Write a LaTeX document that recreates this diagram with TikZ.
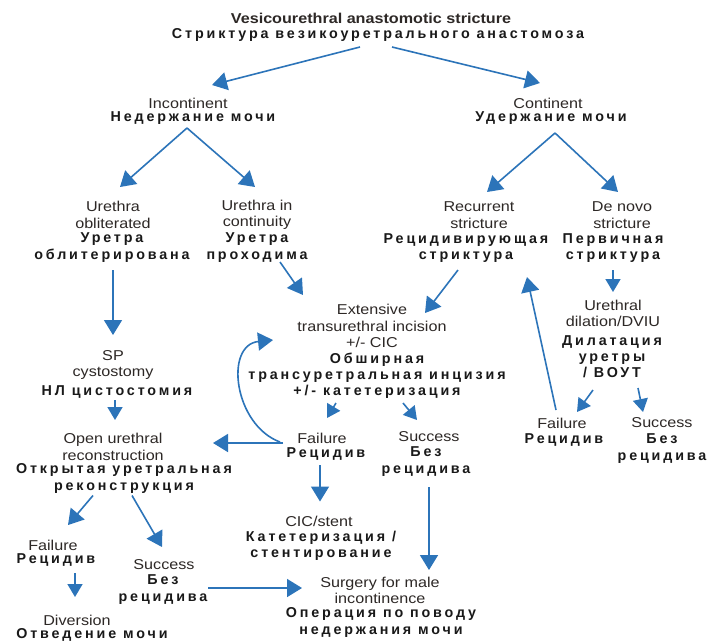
\documentclass[tikz,border=0pt]{standalone}
\usepackage{fontspec}
\usepackage{xcolor}
\usepackage{tikz}
\usetikzlibrary{arrows.meta}

\setmainfont{Liberation Sans}
\newfontfamily\enfont{Liberation Sans}[FakeStretch=1.13]
\newfontfamily\rufont{Liberation Sans}[LetterSpace=20]

\definecolor{arrblue}{RGB}{44,116,185}
\definecolor{entext}{RGB}{45,40,38}

\tikzset{
  en/.style={inner sep=0pt, align=center, text=entext,
    font=\enfont\fontsize{14.3}{16.5}\selectfont},
  ru/.style={inner sep=0pt, align=center, text=black!90,
    font=\rufont\bfseries\fontsize{14.3}{16.2}\selectfont},
  arr/.style={draw=arrblue, line width=1.6pt,
    -{Triangle[length=15pt,width=18pt]}},
  arr small/.style={arr, -{Triangle[length=13pt,width=15pt]}}
}

\begin{document}
\begin{tikzpicture}[x=1pt,y=-1pt]

\useasboundingbox[fill=white] (0,0) rectangle (722,641);

% Top of the tree
\node[en, font=\enfont\bfseries\fontsize{14.3}{16.5}\selectfont] (title) at (371,18) {Vesicourethral anastomotic stricture};
\node[ru] (title ru) at (378,35) {Стриктура везикоуретрального анастомоза};

\node[en] (incont) at (188,103) {Incontinent};
\node[ru] (incont ru) at (193,118) {Недержание мочи};
\node[en] (cont) at (548,103) {Continent};
\node[ru] (cont ru) at (551,118) {Удержание мочи};

% Second row
\node[en] (obl) at (113,215) {Urethra\\obliterated};
\node[ru] (obl ru) at (112,247.5) {Уретра\\облитерирована};
\node[en] (cty) at (257,215) {Urethra in\\continuity};
\node[ru] (cty ru) at (257,247.5) {Уретра\\проходима};
\node[en] (recur) at (479,215) {Recurrent\\stricture};
\node[ru] (recur ru) at (466,248) {Рецидивирующая\\стриктура};
\node[en] (denovo) at (622,215) {De novo\\stricture};
\node[ru] (denovo ru) at (613,248) {Первичная\\стриктура};

% Middle
\node[en] (sp) at (113,365) {SP\\cystostomy};
\node[ru] (sp ru) at (117,392) {НЛ цистостомия};
\node[en] (eti) at (372,326) {Extensive\\transurethral incision\\+/- CIC};
\node[ru] (eti ru) at (377,376) {Обширная\\трансуретральная инцизия\\+/- катетеризация};
\node[en] (dil) at (613,313.5) {Urethral\\dilation/DVIU};
\node[ru] (dil ru) at (612,356.5) {Дилатация\\уретры\\/ ВОУТ};

\node[en] (openrec) at (113,447) {Open urethral\\reconstruction};
\node[ru] (openrec ru) at (124,478.5) {Открытая уретральная\\реконструкция};
\node[en] (fail1) at (322,438) {Failure};
\node[ru] (fail1 ru) at (326,454) {Рецидив};
\node[en] (succ1) at (429,437) {Success};
\node[ru] (succ1 ru) at (426,461.5) {Без\\рецидива};
\node[en] (fail2) at (562,423) {Failure};
\node[ru] (fail2 ru) at (564,440) {Рецидив};
\node[en] (succ2) at (662,423) {Success};
\node[ru] (succ2 ru) at (662,448.5) {Без\\рецидива};

% Bottom
\node[en] (failL) at (53,545) {Failure};
\node[ru] (failL ru) at (56,560) {Рецидив};
\node[en] (succL) at (164,565) {Success};
\node[ru] (succL ru) at (163,589.5) {Без\\рецидива};
\node[en] (div) at (77,620) {Diversion};
\node[ru] (div ru) at (92,635) {Отведение мочи};
\node[en] (cic) at (319,521.5) {CIC/stent};
\node[ru] (cic ru) at (321,545.5) {Катетеризация /\\стентирование};
\node[en] (surg) at (380,590.5) {Surgery for male\\incontinence};
\node[ru] (surg ru) at (381,622.5) {Операция по поводу\\недержания мочи};

% Arrows
\draw[arr] ([shift={(-18,12)}]title ru.center) -- ([shift={(24,-18)}]incont.center);
\draw[arr] ([shift={(14,12)}]title ru.center) -- ([shift={(-8,-20)}]cont.center);
\draw[arr] ([shift={(-6,10)}]incont ru.center) -- ([shift={(7,-28)}]obl.center);
\draw[arr] ([shift={(-6,10)}]incont ru.center) -- ([shift={(-2,-28)}]cty.center);
\draw[arr] ([shift={(4,15)}]cont ru.center) -- ([shift={(8,-23)}]recur.center);
\draw[arr] ([shift={(4,15)}]cont ru.center) -- ([shift={(-4,-23)}]denovo.center);
\draw[arr] ([shift={(1,22.5)}]obl ru.center) -- ([shift={(0,-30)}]sp.center);
\draw[arr] ([shift={(23,14.5)}]cty ru.center) -- ([shift={(-69,-31)}]eti.center);
\draw[arr] ([shift={(-8,22)}]recur ru.center) -- ([shift={(53,-13)}]eti.center);
\draw[arr small] ([shift={(0,22)}]denovo ru.center) -- ([shift={(0,-21.5)}]dil.center);
\draw[arr small] ([shift={(-2,8)}]sp ru.center) -- ([shift={(2,-27)}]openrec.center);
\draw[arr small] ([shift={(-41,27)}]eti ru.center) -- ([shift={(5,-20)}]fail1.center);
\draw[arr small] ([shift={(26,27)}]eti ru.center) -- ([shift={(-12,-17)}]succ1.center);
\draw[arr] ([shift={(-39,5)}]fail1.center) -- ([shift={(100,-4)}]openrec.center);
\draw[arr] ([shift={(-42,4)}]fail1.center) .. controls (234,425) and (224,345) .. ([shift={(-99,14)}]eti.center);
\draw[arr] ([shift={(-6,11)}]fail1 ru.center) -- ([shift={(1,-20)}]cic.center);
\draw[arr] ([shift={(3,25.5)}]succ1 ru.center) -- ([shift={(49,-20.5)}]surg.center);
\draw[arr] ([shift={(-31,17)}]openrec ru.center) -- ([shift={(15,-20)}]failL.center);
\draw[arr] ([shift={(8,17)}]openrec ru.center) -- ([shift={(-2,-18)}]succL.center);
\draw[arr small] ([shift={(19,13)}]failL ru.center) -- ([shift={(-2,-23)}]div.center);
\draw[arr] ([shift={(45,-1.5)}]succL ru.center) -- ([shift={(-78,-2.5)}]surg.center);
\draw[arr small] ([shift={(-19,33.5)}]dil ru.center) -- ([shift={(15,-11)}]fail2.center);
\draw[arr small] ([shift={(26,31.5)}]dil ru.center) -- ([shift={(-19,-11)}]succ2.center);
\draw[arr] ([shift={(-6,-13)}]fail2.center) -- ([shift={(61,29)}]recur ru.center);

\end{tikzpicture}
\end{document}
